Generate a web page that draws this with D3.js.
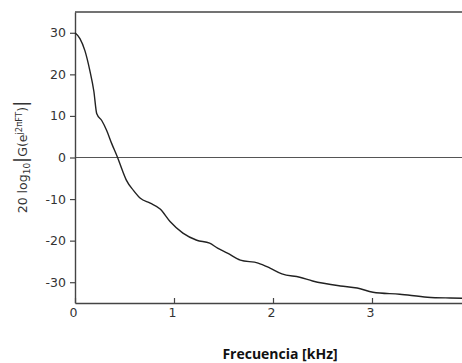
<!DOCTYPE html>
<html>
<head>
<meta charset="utf-8">
<script src="https://cdn.jsdelivr.net/npm/d3@7"></script>
<style>
  body { margin: 0; background: #fff; }
  svg { display: block; }
  .tick text { font-family: "DejaVu Sans", sans-serif; font-size: 12.5px; fill: #333; }
</style>
</head>
<body>
<svg id="chart" width="462" height="363"></svg>
<script>
// frequency in kHz, magnitude in dB
const freqs = [0, 0.05, 0.10, 0.15, 0.19, 0.22, 0.27, 0.32, 0.37, 0.43, 0.48, 0.52, 0.59,
  0.66, 0.76, 0.86, 0.96, 1.09, 1.23, 1.36, 1.44, 1.54, 1.67, 1.85, 1.97, 2.09, 2.27,
  2.40, 2.68, 2.85, 3.01, 3.28, 3.56, 3.79, 4.0];
const gainDb = [30, 28.6, 25.7, 20.9, 16, 10.5, 8.9, 6.5, 3.4, 0, -3.2, -5.5, -7.9,
  -9.8, -11, -12.4, -15.4, -18.2, -19.9, -20.6, -21.8, -23, -24.7, -25.4, -26.6, -28, -28.8,
  -29.7, -30.9, -31.4, -32.4, -32.9, -33.6, -33.8, -33.9];
const xTicks = [0, 1, 2, 3];
const yTicks = [30, 20, 10, 0, -10, -20, -30];

const svg = d3.select("#chart");
const x = d3.scaleLinear().domain([0, 4]).range([75, 471]);
const y = d3.scaleLinear().domain([-35, 35]).range([303, 12]);

const points = freqs.map((f, i) => ({ f: f, g: gainDb[i] }));

// frame: top border and zero line
svg.append("line")
  .attr("x1", x(0)).attr("x2", x(4))
  .attr("y1", y(35)).attr("y2", y(35))
  .attr("stroke", "#444").attr("stroke-width", 1.4);
svg.append("line")
  .attr("x1", x(0)).attr("x2", x(4))
  .attr("y1", y(0)).attr("y2", y(0))
  .attr("stroke", "#555").attr("stroke-width", 1);

const yAxis = svg.append("g")
  .attr("transform", `translate(${x(0)},0)`)
  .call(d3.axisLeft(y).tickValues(yTicks).tickSizeInner(5).tickSizeOuter(0).tickPadding(4)
    .tickFormat((d) => String(d)));
yAxis.select(".domain").attr("stroke", "#444").attr("stroke-width", 1.4);
yAxis.selectAll(".tick line").attr("stroke", "#444").attr("stroke-width", 1.2);

const xAxis = svg.append("g")
  .attr("transform", `translate(0,${y(-35)})`)
  .call(d3.axisBottom(x).tickValues(xTicks).tickSizeInner(-5).tickSizeOuter(0).tickPadding(5)
    .tickFormat(d3.format("d")));
xAxis.select(".domain").attr("stroke", "#444").attr("stroke-width", 1.4);
xAxis.selectAll(".tick line").attr("stroke", "#444").attr("stroke-width", 1.2);
xAxis.selectAll(".tick text").attr("dx", -2);

// response curve
const line = d3.line()
  .x((d) => x(d.f))
  .y((d) => y(d.g))
  .curve(d3.curveMonotoneX);
svg.append("path")
  .datum(points)
  .attr("d", line)
  .attr("fill", "none")
  .attr("stroke", "#222")
  .attr("stroke-width", 1.4);

// y label
const yl = svg.append("text")
  .attr("transform", "translate(27,157) rotate(-90)")
  .attr("text-anchor", "middle")
  .attr("font-family", "DejaVu Sans, sans-serif")
  .attr("font-size", 12.5)
  .attr("fill", "#333");
yl.append("tspan").text("20 log");
yl.append("tspan").attr("font-size", 9).attr("dy", 3).text("10");
yl.append("tspan").attr("dy", -3).attr("font-size", 18).text("|");
yl.append("tspan").text("G(e");
yl.append("tspan").attr("font-size", 8.5).attr("dy", -5).text("j2πFT");
yl.append("tspan").attr("dy", 5).text(")");
yl.append("tspan").attr("font-size", 18).text("|");

// x label
svg.append("text")
  .attr("x", 280)
  .attr("y", 359)
  .attr("text-anchor", "middle")
  .attr("font-family", "Open Sans, sans-serif")
  .attr("font-weight", "bold")
  .attr("font-size", 14)
  .attr("fill", "#111")
  .text("Frecuencia [kHz]");
</script>
</body>
</html>
